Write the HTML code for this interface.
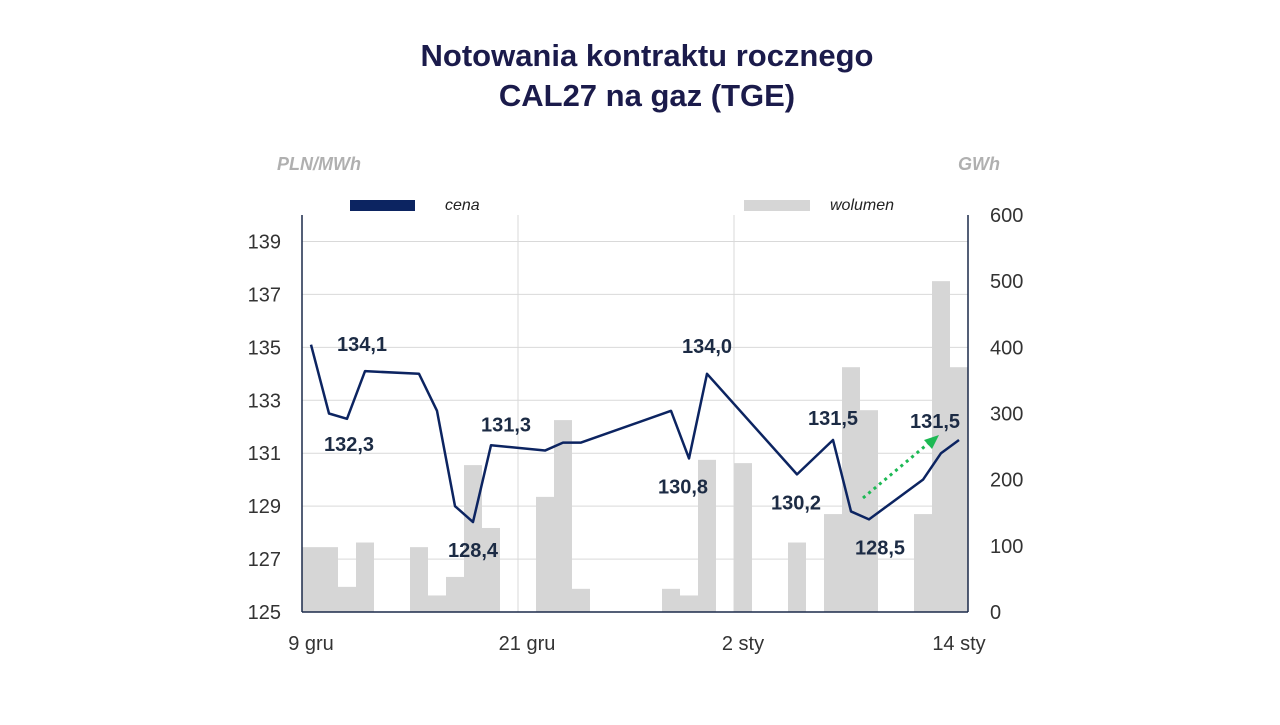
<!DOCTYPE html>
<html><head><meta charset="utf-8"><style>
body{margin:0;background:#fff;}
svg text{font-family:"Liberation Sans",sans-serif;}
</style></head><body>
<svg width="1280" height="720">
<text x="647" y="66" text-anchor="middle" font-size="31" font-weight="bold" fill="#1b1b4b">Notowania kontraktu rocznego</text>
<text x="647" y="106" text-anchor="middle" font-size="31" font-weight="bold" fill="#1b1b4b">CAL27 na gaz (TGE)</text>
<text x="277" y="170" font-size="18" font-weight="bold" font-style="italic" fill="#b0b0b0">PLN/MWh</text>
<text x="1000" y="170" text-anchor="end" font-size="18" font-weight="bold" font-style="italic" fill="#b0b0b0">GWh</text>
<rect x="350" y="200" width="65" height="11" fill="#0c2461"/>
<text x="445" y="210" font-size="16" font-style="italic" fill="#222">cena</text>
<rect x="744" y="200" width="66" height="11" fill="#d6d6d6"/>
<text x="830" y="210" font-size="16" font-style="italic" fill="#222">wolumen</text>
<g id="grid"></g><g id="bars"></g><g id="axes"></g><g id="line"></g><g id="labels"></g>
<line x1="863" y1="498" x2="930" y2="442" stroke="#1db954" stroke-width="3" stroke-dasharray="3,4"/>
<polygon points="939,435 924,440 932,449" fill="#1db954"/>
</svg>
<script>
const volSlots=[0,1,2,3,6,7,8,9,10,13,14,15,20,21,22,24,27,29,30,31,34,35,36];
const volValues=[98,98,38,105,98,25,53,222,127,174,290,35,35,25,230,225,105,148,370,305,148,500,370];
const priceSlots=[0,1,2,3,6,7,8,9,10,13,14,15,20,21,22,27,29,30,31,34,35,36];
const priceValues=[135.1,132.5,132.3,134.1,134.0,132.6,129.0,128.4,131.3,131.1,131.4,131.4,132.6,130.8,134.0,130.2,131.5,128.8,128.5,130.0,131.0,131.5];
const leftTicks=[125,127,129,131,133,135,137,139];
const rightTicks=[0,100,200,300,400,500,600];
const xTickSlots=[0,12,24,36];
const xTickLabels=["9 gru","21 gru","2 sty","14 sty"];
const priceLabelSlots=[3,2,9,10,21,22,27,29,31,36];
const priceLabelText=["134,1","132,3","128,4","131,3","130,8","134,0","130,2","131,5","128,5","131,5"];
const priceLabelDy=[-20,32,35,-14,35,-21,35,-15,35,-12];
const priceLabelDx=[-3,2,0,15,-6,0,-1,0,11,-24];
const L=302,R=968,T=215,B=612,SW=18;
const yL=v=>B-(v-125)*(B-T)/15;
const yR=v=>B-v*(B-T)/600;
const xC=s=>L+SW*s+SW/2;
const NS="http://www.w3.org/2000/svg";
function mk(p,t,a){const e=document.createElementNS(NS,t);for(const k in a)e.setAttribute(k,a[k]);document.getElementById(p).appendChild(e);return e;}
leftTicks.forEach(v=>{const g=mk('grid','line',{x1:L,x2:R,y1:yL(v),y2:yL(v),stroke:'#d9d9d9','stroke-width':1});


const t=mk('axes','text',{x:281,y:yL(v)+7,'text-anchor':'end','font-size':20,fill:'#333'});t.textContent=v;

});
rightTicks.forEach(v=>{const t=mk('axes','text',{x:990,y:yR(v)+7,'font-size':20,fill:'#333'});t.textContent=v;

});
[12,24].forEach(s=>{const g=mk('grid','line',{x1:L+SW*s,x2:L+SW*s,y1:T,y2:B,stroke:'#d9d9d9','stroke-width':1});

});
xTickSlots.forEach((s,i)=>{const t=mk('axes','text',{x:xC(s),y:650,'text-anchor':'middle','font-size':20,fill:'#333'});t.textContent=xTickLabels[i];

});
volSlots.forEach((s,i)=>{const r=mk('bars','rect',{x:L+SW*s,y:yR(volValues[i]),width:SW,height:B-yR(volValues[i]),fill:'#d6d6d6'});

});
let a=mk('axes','line',{x1:L,x2:L,y1:T,y2:B,stroke:'#1b2a4a','stroke-width':1.5});


a=mk('axes','line',{x1:R,x2:R,y1:T,y2:B,stroke:'#1b2a4a','stroke-width':1.5});


a=mk('axes','line',{x1:L,x2:R,y1:B,y2:B,stroke:'#1b2a4a','stroke-width':1.5});


const pl=mk('line','polyline',{points:priceSlots.map((s,i)=>xC(s)+','+yL(priceValues[i])).join(' '),fill:'none',stroke:'#0c2461','stroke-width':2.5,'stroke-linejoin':'round'});


priceLabelSlots.forEach((s,i)=>{const v=priceValues[priceSlots.indexOf(s)];
const t=mk('labels','text',{x:xC(s)+priceLabelDx[i],y:yL(v)+priceLabelDy[i],'text-anchor':'middle','font-size':20,'font-weight':'bold',fill:'#1c2b44'});t.textContent=priceLabelText[i];

});
</script>
</body></html>
